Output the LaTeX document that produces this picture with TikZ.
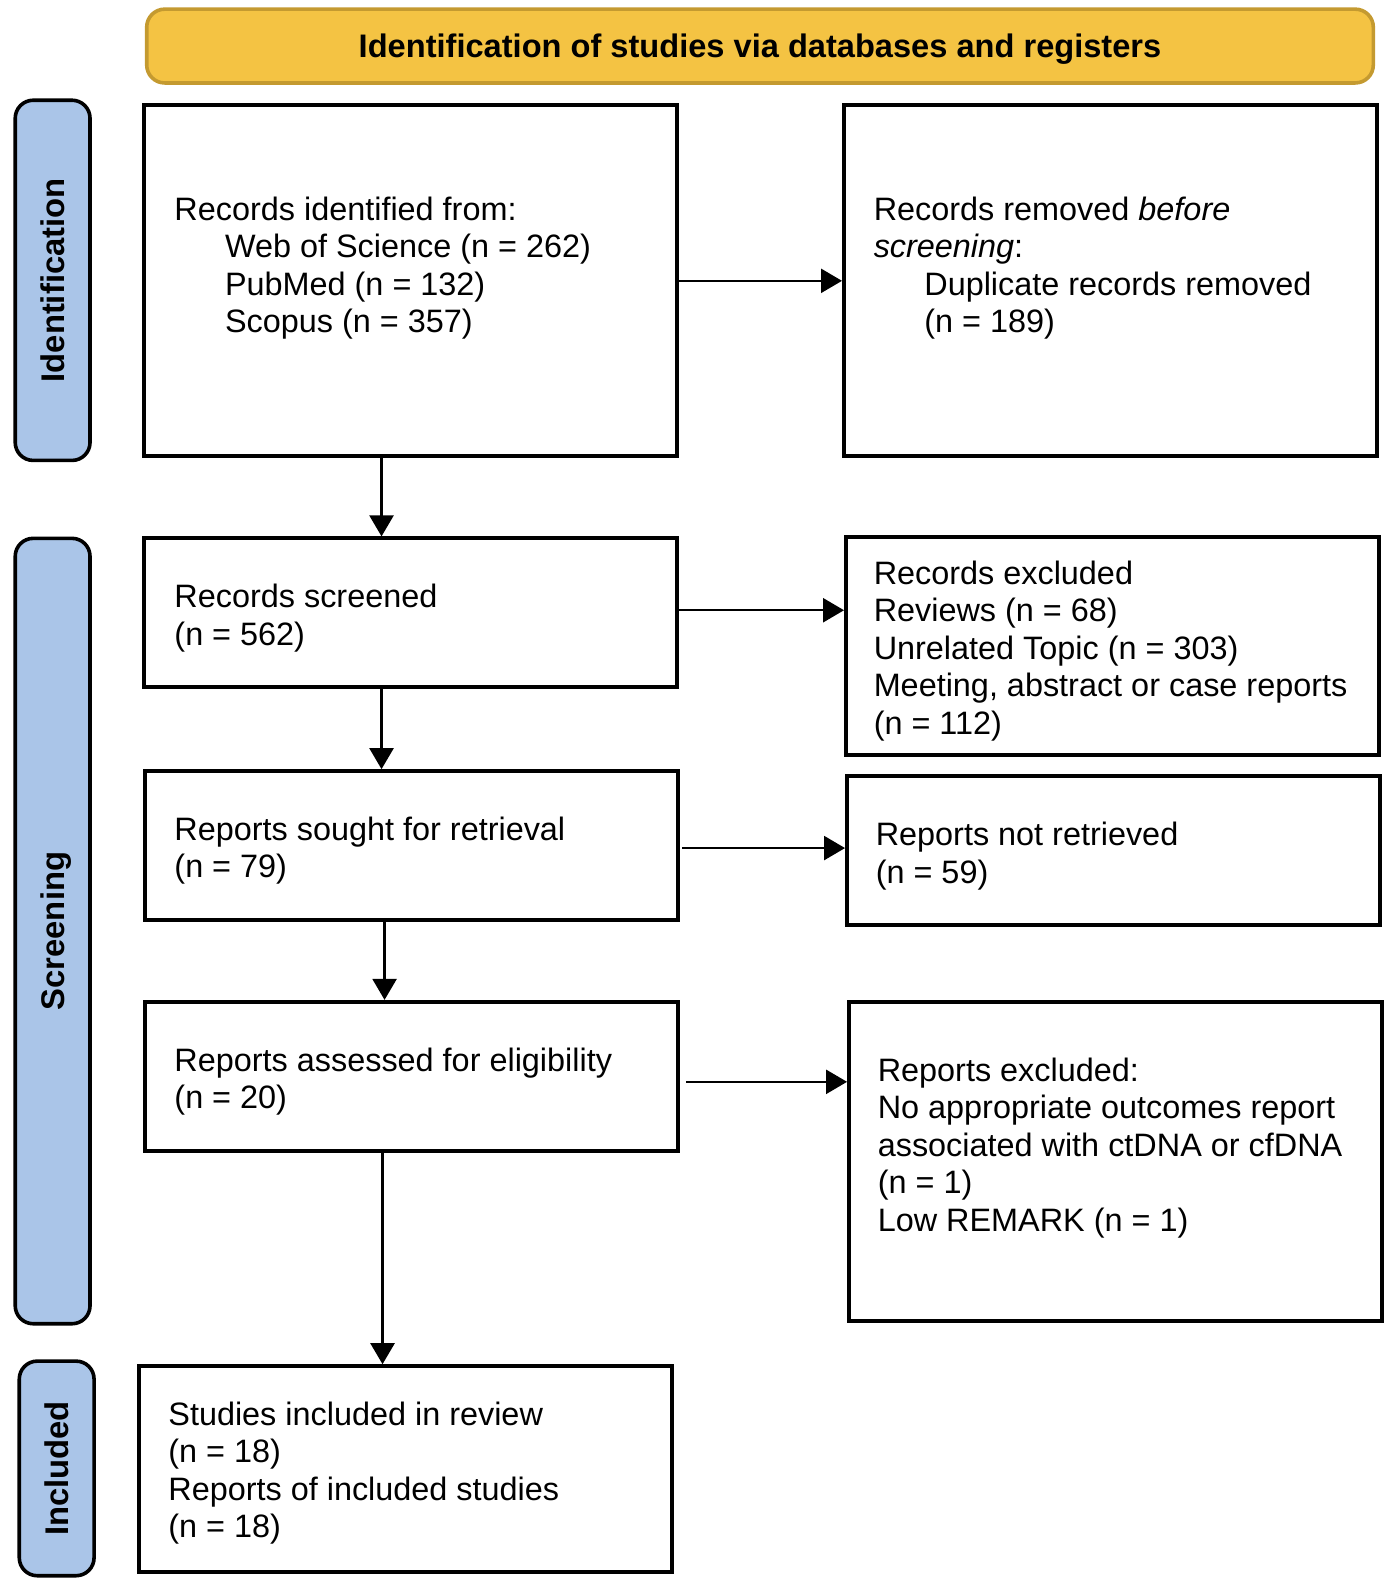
\documentclass[tikz,border=0pt]{standalone}
\usepackage{fontspec}
\setmainfont{Liberation Sans}
\usetikzlibrary{calc,arrows.meta}
\definecolor{hdrfill}{HTML}{F4C343}
\definecolor{hdrdraw}{HTML}{C49A30}
\definecolor{sidefill}{HTML}{AAC5E8}
\begin{document}
\begin{tikzpicture}[x=0.506pt,y=-0.506pt,
  bx/.style 2 args={draw, line width=2pt, inner sep=0pt, minimum width={#1*0.506pt}, minimum height={#2*0.506pt}},
  side/.style={draw, line width=1.8pt, fill=sidefill, rounded corners=9pt, inner sep=0pt},
  sidetxt/.style={rotate=90, text depth=0pt, font=\bfseries\fontsize{16.4}{19}\selectfont},
  txt/.style={anchor=north west, align=left, inner sep=0pt, font=\fontsize{16.2}{18.7}\selectfont},
  arr/.style={line width=1.2pt, -{Triangle[length=10.5pt,width=12pt]}}
]
% header
\node[draw=hdrdraw, line width=1.8pt, fill=hdrfill, rounded corners=9pt, minimum width=613.3pt, minimum height=36.9pt, text depth=0pt, font=\bfseries\fontsize{16.3}{19}\selectfont] (hdr) at (751,45.5) {Identification of studies via databases and registers};
% side bars
\node[side, minimum width=37.4pt, minimum height=180.1pt] (s1) at (52,277) {};
\node[sidetxt] (s1t) at (s1) {Identification};
\node[side, minimum width=37.4pt, minimum height=392.7pt] (s2) at (52,920) {};
\node[sidetxt] (s2t) at (s2) {Screening};
\node[side, minimum width=37.4pt, minimum height=107.3pt] (s3) at (56,1451) {};
\node[sidetxt] (s3t) at (s3) {Included};
% boxes
\node[bx={527}{347}] (b1) at (405.5,277.5) {};
\node[bx={527}{347}] (b2) at (1097.5,277.5) {};
\node[bx={527}{147}] (b3) at (405.5,605.5) {};
\node[bx={527}{215}] (b4) at (1099.5,638.5) {};
\node[bx={527}{147}] (b5) at (406.5,835.5) {};
\node[bx={527}{147}] (b6) at (1100.5,840.5) {};
\node[bx={527}{147}] (b7) at (406.5,1063.5) {};
\node[bx={527}{315}] (b8) at (1102.5,1147.5) {};
\node[bx={527}{203}] (b9) at (400.5,1451.5) {};
% texts
\node[txt] (t1) at (172,194) {Records identified from:\\\hspace*{25.3pt}Web of Science (n = 262)\\\hspace*{25.3pt}PubMed (n = 132)\\\hspace*{25.3pt}Scopus (n = 357)};
\node[txt] (t2) at (863,194) {Records removed \textit{before}\\\textit{screening}:\\\hspace*{25.3pt}Duplicate records removed\\\hspace*{25.3pt}(n = 189)};
\node[txt] (t3) at (172,577) {Records screened\\(n = 562)};
\node[txt] (t4) at (863,554) {Records excluded\\Reviews (n = 68)\\Unrelated Topic (n = 303)\\Meeting, abstract or case reports\\(n = 112)};
\node[txt] (t5) at (172,807) {Reports sought for retrieval\\(n = 79)};
\node[txt] (t6) at (865,812) {Reports not retrieved\\(n = 59)};
\node[txt] (t7) at (172,1035) {Reports assessed for eligibility\\(n = 20)};
\node[txt] (t8) at (867,1045) {Reports excluded:\\No appropriate outcomes report\\associated with ctDNA or cfDNA\\(n = 1)\\Low REMARK (n = 1)};
\node[txt] (t9) at (166,1385) {Studies included in review\\(n = 18)\\Reports of included studies\\(n = 18)};
% arrow end points
\coordinate (a3s) at (669,603);
\coordinate (a5s) at (674,838);
\coordinate (a7s) at (678,1069);
\coordinate (d1) at (377,451);
\coordinate (d3) at (377,679);
\coordinate (d5) at (380,909);
\coordinate (d7) at (378,1137);
% arrows
\draw[arr] (b1.east) -- (b2.west);
\draw[arr] (a3s) -- (a3s -| b4.west);
\draw[arr] (a5s) -- (a5s -| b6.west);
\draw[arr] (a7s) -- (a7s -| b8.west);
\draw[arr] (d1) -- (d1 |- b3.north);
\draw[arr] (d3) -- (d3 |- b5.north);
\draw[arr] (d5) -- (d5 |- b7.north);
\draw[arr] (d7) -- (d7 |- b9.north);
\pgfresetboundingbox
\useasboundingbox (0,0) rectangle (1380.4,1567.2);
\end{tikzpicture}
\end{document}
